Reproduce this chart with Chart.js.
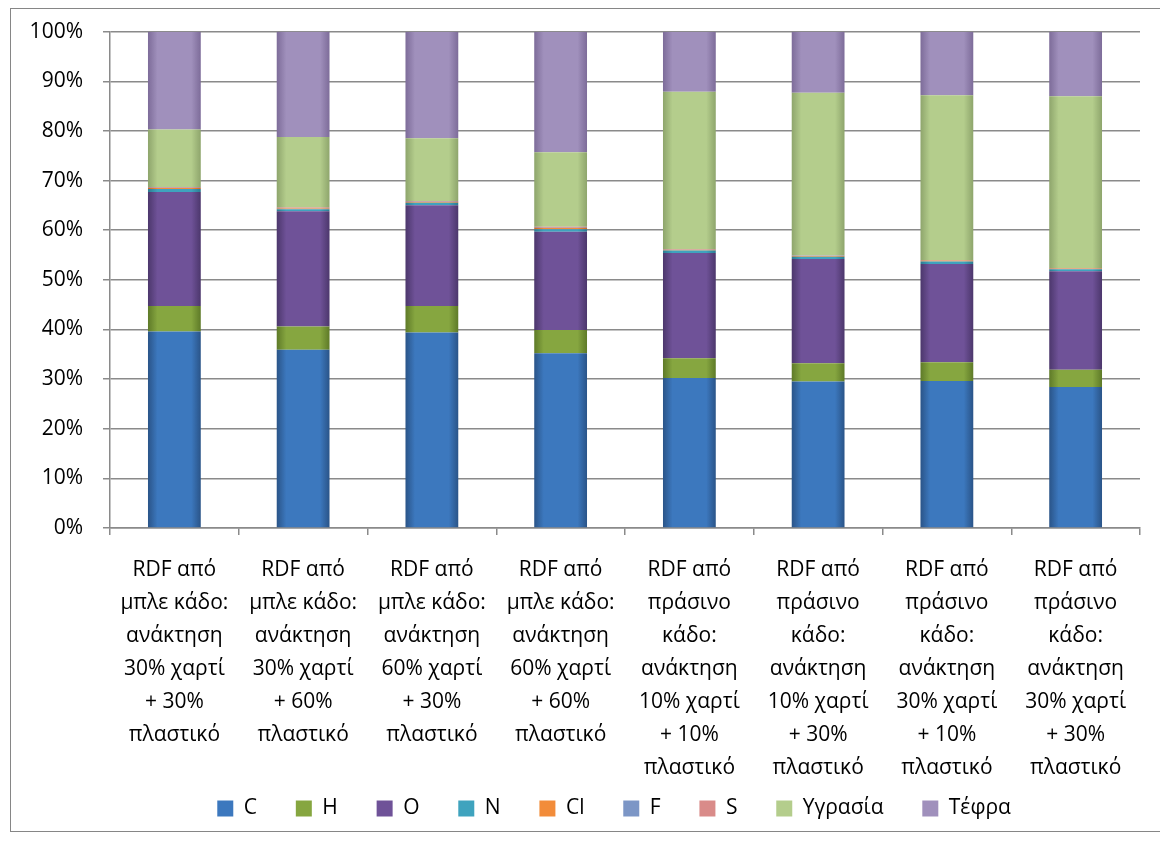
<!DOCTYPE html>
<html>
<head>
<meta charset="utf-8">
<script src="https://cdn.jsdelivr.net/npm/chart.js@4/dist/chart.umd.min.js"></script>
<style>
  body { margin: 0; background: #fff; overflow: hidden; }
  #frame {
    position: absolute;
    left: 10px;
    top: 8px;
    width: 1170px;
    height: 824px;
    box-sizing: border-box;
    border: 1px solid #868686;
  }
</style>
</head>
<body>
<div id="frame"><canvas id="chart1"></canvas></div>
<script>
// Κατηγορίες (ετικέτες άξονα x, σε γραμμές)
const categories = [
  ["RDF από", "μπλε κάδο:", "ανάκτηση", "30% χαρτί", "+ 30%", "πλαστικό"],
  ["RDF από", "μπλε κάδο:", "ανάκτηση", "30% χαρτί", "+ 60%", "πλαστικό"],
  ["RDF από", "μπλε κάδο:", "ανάκτηση", "60% χαρτί", "+ 30%", "πλαστικό"],
  ["RDF από", "μπλε κάδο:", "ανάκτηση", "60% χαρτί", "+ 60%", "πλαστικό"],
  ["RDF από", "πράσινο", "κάδο:", "ανάκτηση", "10% χαρτί", "+ 10%", "πλαστικό"],
  ["RDF από", "πράσινο", "κάδο:", "ανάκτηση", "10% χαρτί", "+ 30%", "πλαστικό"],
  ["RDF από", "πράσινο", "κάδο:", "ανάκτηση", "30% χαρτί", "+ 10%", "πλαστικό"],
  ["RDF από", "πράσινο", "κάδο:", "ανάκτηση", "30% χαρτί", "+ 30%", "πλαστικό"],
];

// Σύσταση (%)
const C = [39.6, 35.9, 39.4, 35.2, 30.2, 29.5, 29.6, 28.4];
const H = [5.1, 4.7, 5.3, 4.7, 4.0, 3.7, 3.8, 3.5];
const O = [23.0, 23.2, 20.3, 19.8, 21.2, 21.0, 19.8, 19.8];
const N = [0.6, 0.4, 0.5, 0.5, 0.5, 0.45, 0.5, 0.45];
const Cl = [0.2, 0.15, 0.2, 0.25, 0.15, 0.15, 0.2, 0.15];
const F = [0.05, 0.05, 0.05, 0.05, 0.05, 0.05, 0.05, 0.05];
const S = [0.15, 0.15, 0.15, 0.2, 0.1, 0.05, 0.05, 0.05];
const ygrasia = [11.6, 14.2, 12.6, 15.0, 31.7, 32.8, 33.2, 34.6];
const tefra = [19.7, 21.3, 21.5, 24.3, 12.1, 12.3, 12.8, 13.0];

// Ετικέτες άξονα y
const yTicks = [0, 10, 20, 30, 40, 50, 60, 70, 80, 90, 100];

const BAR_FRACTION = 0.41;

// Χρώμα με σκίαση στις άκρες της μπάρας
function barFill(base, edge) {
  return function (ctx) {
    const chart = ctx.chart;
    const area = chart.chartArea;
    if (!area || !chart.scales.x) return base;
    const x = chart.scales.x.getPixelForValue(ctx.dataIndex);
    const w = ((area.right - area.left) / categories.length) * BAR_FRACTION;
    const g = chart.ctx.createLinearGradient(x - w / 2, 0, x + w / 2, 0);
    g.addColorStop(0, edge);
    g.addColorStop(0.18, base);
    g.addColorStop(0.82, base);
    g.addColorStop(1, edge);
    return g;
  };
}

function serie(label, data, base, edge) {
  return {
    label: label,
    data: data,
    backgroundColor: barFill(base, edge),
    legendColor: base,
    borderWidth: 0,
    barPercentage: BAR_FRACTION,
    categoryPercentage: 1,
  };
}

const tickFont = { family: "'Open Sans', 'DejaVu Sans', sans-serif", size: 21 };

var ctx1 = document.getElementById("chart1").getContext("2d");
var chart1 = new Chart(ctx1, {
  type: "bar",
  data: {
    labels: categories,
    datasets: [
      serie("C", C, "#3C78BE", "#2A5488"),
      serie("H", H, "#86A640", "#5E7A28"),
      serie("O", O, "#6F5298", "#4C376C"),
      serie("N", N, "#3FA3BE", "#2C7C92"),
      serie("Cl", Cl, "#F28C3A", "#C86A20"),
      serie("F", F, "#7C96C6", "#5A72A0"),
      serie("S", S, "#D98B89", "#B06866"),
      serie("Υγρασία", ygrasia, "#B4CD8C", "#8EA56C"),
      serie("Τέφρα", tefra, "#A090BC", "#7D6C99"),
    ],
  },
  options: {
    responsive: true,
    maintainAspectRatio: false,
    animation: false,
    layout: {
      padding: { top: 12, left: 0, right: 39, bottom: 2 },
    },
    plugins: {
      tooltip: { enabled: false },
      legend: {
        display: true,
        position: "bottom",
        fullSize: false,
        labels: {
          color: "#000",
          font: tickFont,
          boxWidth: 16,
          boxHeight: 16,
          padding: 17,
          generateLabels: function (chart) {
            const items = Chart.defaults.plugins.legend.labels.generateLabels(chart);
            items.forEach(function (it) {
              const ds = chart.data.datasets[it.datasetIndex];
              it.fillStyle = ds.legendColor;
              it.strokeStyle = ds.legendColor;
              it.lineWidth = 0;
              it.text = ds.label + "    "; // κενά για την απόσταση ανάμεσα στα στοιχεία
            });
            return items;
          },
        },
      },
    },
    scales: {
      x: {
        stacked: true,
        afterFit: function (scale) {
          scale.height = 253;
        },
        grid: {
          display: true,
          drawOnChartArea: false,
          drawTicks: true,
          tickLength: 7,
          offset: true,
          color: "#8a8a8a",
          lineWidth: 1.5,
        },
        border: { color: "#8a8a8a", width: 1.5 },
        ticks: {
          color: "#000",
          font: Object.assign({ lineHeight: 33 / 21 }, tickFont),
          padding: 19,
          maxRotation: 0,
          minRotation: 0,
          autoSkip: false,
        },
      },
      y: {
        stacked: true,
        min: 0,
        max: 100,
        afterFit: function (scale) {
          scale.width = 99;
        },
        afterBuildTicks: function (scale) {
          scale.ticks = yTicks.map(function (v) {
            return { value: v };
          });
        },
        grid: {
          color: "#8a8a8a",
          lineWidth: 1.5,
          drawTicks: true,
          tickLength: 7,
        },
        border: { color: "#8a8a8a", width: 1.5 },
        ticks: {
          color: "#000",
          // lineHeight μικρό ώστε να μη μεγαλώνει το πάνω περιθώριο
          font: Object.assign({ lineHeight: 0.25 }, tickFont),
          padding: 20,
          callback: function (v) {
            return v + "%";
          },
        },
      },
    },
  },
});
</script>
</body>
</html>
